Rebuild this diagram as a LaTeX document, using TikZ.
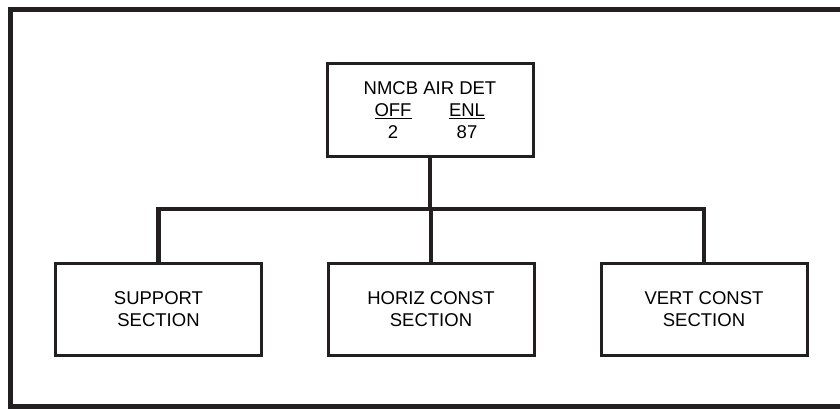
\documentclass[tikz,border=0pt]{standalone}
\usepackage{fontspec}
\setmainfont{Liberation Sans}
\usepackage{tikz}
\usetikzlibrary{positioning}
\definecolor{ink}{HTML}{231F20}
\tikzset{
  secbox/.style={draw=ink,line width=3pt,minimum width=206pt,minimum height=92pt,inner sep=0pt,align=center,font=\fontsize{18.5}{22}\selectfont},
  link/.style={draw=ink,line width=4.5pt},
  outline/.style={draw=ink,line width=5pt}
}
\newcommand{\colcell}[1]{\makebox[74pt]{#1}}

\begin{document}
\begin{tikzpicture}[x=1pt,y=-1pt]
\useasboundingbox (0,0) rectangle (840,409);
\draw[outline] (845,10) -| (10,406) -- (845,406);
\node[secbox] (det) at (430,110) {NMCB AIR DET\\
\colcell{\underline{OFF}}\colcell{\underline{ENL}}\\
\colcell{2}\colcell{87}};
\node[secbox] (support) at (158.5,309) {SUPPORT\\SECTION};
\node[secbox] (horiz) at (431,309) {HORIZ CONST\\SECTION};
\node[secbox] (vert) at (704,309) {VERT CONST\\SECTION};
\coordinate (bus) at (430,209);
\draw[link] (det.south) -- (bus);
\draw[link] (support.north) |- (bus) -| (vert.north);
\draw[link] (horiz.north) -- (horiz.north |- bus);
\end{tikzpicture}
\end{document}
